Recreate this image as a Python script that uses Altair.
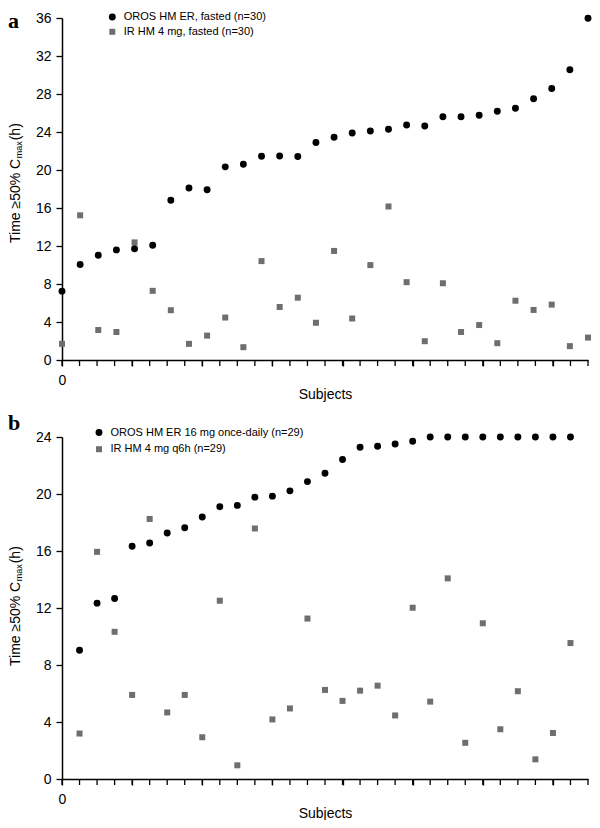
import altair as alt
import pandas as pd

FONT = "Liberation Sans"
SERIF = "Liberation Serif"
GRAY = "#6e6e6e"

# ---------------- Panel a data ----------------
labels_a = ["OROS HM ER, fasted (n=30)", "IR HM 4 mg, fasted (n=30)"]
subjects_a = list(range(30))
oros_a = [7.25, 10.06, 11.03, 11.59, 11.72, 12.07, 16.82, 18.1, 17.93, 20.33,
          20.6, 21.44, 21.47, 21.42, 22.9, 23.45, 23.9, 24.1, 24.28, 24.73,
          24.63, 25.6, 25.6, 25.77, 26.19, 26.5, 27.5, 28.58, 30.56, 35.97]
ir_a = [1.7, 15.23, 3.16, 2.95, 12.38, 7.28, 5.24, 1.7, 2.57, 4.47,
        1.35, 10.41, 5.58, 6.56, 3.92, 11.48, 4.37, 9.99, 16.16, 8.19,
        1.98, 8.08, 2.95, 3.68, 1.77, 6.24, 5.27, 5.83, 1.46, 2.36]
yticks_a = list(range(0, 37, 4))

# ---------------- Panel b data ----------------
labels_b = ["OROS HM ER 16 mg once-daily (n=29)", "IR HM 4 mg q6h (n=29)"]
subjects_b = list(range(1, 30))
oros_b = [9.03, 12.34, 12.67, 16.33, 16.56, 17.26, 17.63, 18.39, 19.11, 19.2,
          19.78, 19.85, 20.22, 20.87, 21.45, 22.42, 23.28, 23.35, 23.51, 23.7,
          24.0, 24.0, 24.0, 24.0, 24.0, 24.0, 24.0, 24.0, 24.0]
ir_b = [3.19, 15.94, 10.33, 5.9, 18.25, 4.67, 5.9, 2.93, 12.51, 0.96,
        17.58, 4.18, 4.95, 11.26, 6.25, 5.48, 6.2, 6.55, 4.46, 12.02,
        5.43, 14.08, 2.54, 10.93, 3.49, 6.16, 1.38, 3.23, 9.54]
yticks_b = list(range(0, 25, 4))

panel_letters = ["a", "b"]
ytitle_parts = ["Time \u226550% C", "max", " (h)"]
xtitle = "Subjects"

W, H = 526, 342
TICK = 6


def panel(subjects, oros, ir, labels, ymax, yticks, xdomain, xticks,
          leg_x, leg_y, row_pad, letter, letter_y, title_start):
    n = len(subjects)
    df = pd.DataFrame({
        "subject": subjects + subjects,
        "value": ir + oros,
        "series": [labels[1]] * n + [labels[0]] * n,
    })
    xscale = alt.Scale(domain=xdomain, nice=False, zero=False)
    leg = alt.Legend(title=None, orient="none", legendX=leg_x, legendY=leg_y,
                     labelFont=FONT, labelFontSize=11, labelColor="black",
                     rowPadding=row_pad, padding=0, labelOffset=6,
                     symbolStrokeWidth=0, labelLimit=0)
    pts = alt.Chart(df).mark_point(filled=True, opacity=1, strokeWidth=0).encode(
        x=alt.X("subject:Q", scale=xscale,
                axis=alt.Axis(values=xticks,
                              labelExpr="datum.value == 0 ? '0' : ''",
                              labelOverlap=False, labelFlush=False,
                              ticks=True, tickOpacity=1,
                              title=xtitle, titleFont=FONT, titleFontSize=14,
                              titleFontWeight="normal", titleColor="black",
                              titlePadding=0,
                              labelFont=FONT, labelFontSize=14, labelColor="black",
                              labelPadding=7, tickSize=TICK, tickWidth=1.3,
                              tickColor="black", domainColor="black",
                              domainWidth=1.5, grid=False)),
        y=alt.Y("value:Q",
                scale=alt.Scale(domain=[0, ymax], nice=False),
                axis=alt.Axis(values=yticks, title=None, labelFlush=False,
                              ticks=True, tickOpacity=1,
                              labelFont=FONT, labelFontSize=14, labelColor="black",
                              labelPadding=5, tickSize=TICK, tickWidth=1.3,
                              tickColor="black", domainColor="black",
                              domainWidth=1.5, grid=False)),
        color=alt.Color("series:N", scale=alt.Scale(domain=labels, range=["#000000", GRAY]), legend=leg),
        shape=alt.Shape("series:N", scale=alt.Scale(domain=labels, range=["circle", "square"]), legend=leg),
        size=alt.Size("series:N", scale=alt.Scale(domain=labels, range=[48, 36]), legend=leg),
    )

    # x-axis tick marks drawn through the same x scale
    ticks_df = pd.DataFrame({"subject": xticks})
    xticks_mark = alt.Chart(ticks_df).mark_rule(color="black", strokeWidth=1.3).encode(
        x=alt.X("subject:Q", scale=xscale),
        y=alt.value(H), y2=alt.value(H + TICK),
    )

    letter_mark = alt.Chart(pd.DataFrame({"t": [letter]})).mark_text(
        font=SERIF, fontSize=22, fontWeight="bold", align="left",
        baseline="alphabetic", color="black"
    ).encode(text="t:N", x=alt.value(-54), y=alt.value(letter_y))

    w1 = 84.7
    w2 = 18.0
    t1 = alt.Chart(pd.DataFrame({"t": [ytitle_parts[0]]})).mark_text(
        font=FONT, fontSize=14, angle=270, align="left", baseline="alphabetic",
        color="black").encode(text="t:N", x=alt.value(-42), y=alt.value(title_start))
    t2 = alt.Chart(pd.DataFrame({"t": [ytitle_parts[1]]})).mark_text(
        font=FONT, fontSize=9, angle=270, align="left", baseline="alphabetic",
        color="black").encode(text="t:N", x=alt.value(-40.5), y=alt.value(title_start - w1))
    t3 = alt.Chart(pd.DataFrame({"t": [ytitle_parts[2]]})).mark_text(
        font=FONT, fontSize=14, angle=270, align="left", baseline="alphabetic",
        color="black").encode(text="t:N", x=alt.value(-42), y=alt.value(title_start - w1 - w2))

    return alt.layer(pts, xticks_mark, letter_mark, t1, t2, t3).properties(width=W, height=H)


xt_a = [k * 29 / 30 for k in range(31)]
xt_b = list(range(31))

pa = panel(subjects_a, oros_a, ir_a, labels_a, 36, yticks_a, [0, 29], xt_a,
           44.8, -6.5, 2.8, panel_letters[0], 10, 225)
pb = panel(subjects_b, oros_b, ir_b, labels_b, 24, yticks_b, [0, 30], xt_b,
           31.5, -10, 4.7, panel_letters[1], -7, 229)

chart = alt.vconcat(pa, pb, spacing=11).resolve_scale(
    color="independent", shape="independent", size="independent"
).properties(padding={"left": 0, "top": 2, "right": 0, "bottom": 0}).configure_view(stroke=None)

chart.save("out.html", embed_options={"renderer": "svg", "actions": False})
